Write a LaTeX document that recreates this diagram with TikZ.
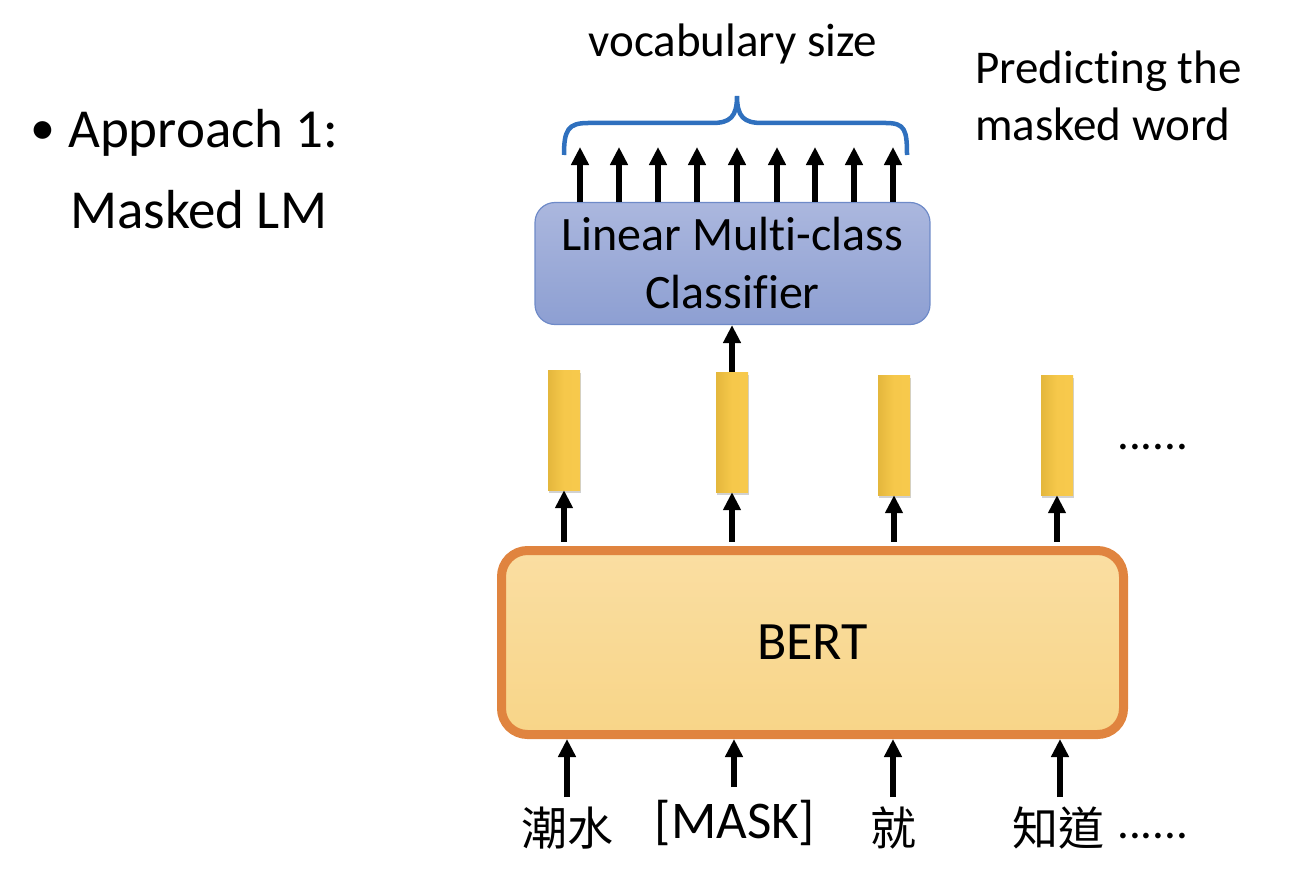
\documentclass[tikz,border=0pt]{standalone}
\usepackage{fontspec}
\setmainfont{Carlito}[Ligatures=NoCommon]
\newfontfamily\cjk{Noto Sans CJK TC}
\usetikzlibrary{arrows.meta,shadows}
\definecolor{bracecol}{RGB}{47,112,190}
\definecolor{bertborder}{RGB}{224,132,63}
\definecolor{berttop}{RGB}{250,222,162}
\definecolor{bertbot}{RGB}{248,213,136}
\definecolor{clstop}{RGB}{171,183,222}
\definecolor{clsbot}{RGB}{141,159,210}
\definecolor{clsborder}{RGB}{110,138,200}
\definecolor{vecleft}{RGB}{228,183,60}
\definecolor{vecright}{RGB}{247,201,76}
\tikzset{
  arr/.style={line width=5.5pt,-{Triangle[width=17pt,length=18pt]}},
  vecbar/.style={draw=none,minimum width=32pt,minimum height=120pt,inner sep=0pt,
    left color=vecleft,right color=vecright,middle color=vecright!95!vecleft,
    drop shadow={shadow xshift=1pt,shadow yshift=-2.5pt,fill=black!40,opacity=0.45}},
  txt/.style={inner sep=0pt,font=\fontsize{47}{57}\selectfont},
  bigtxt/.style={inner sep=0pt,font=\fontsize{55}{66}\selectfont},
  tok/.style={inner sep=0pt,font=\fontsize{53}{64}\selectfont},
}
\begin{document}
\begin{tikzpicture}[x=1pt,y=-1pt]
\useasboundingbox (0,0) rectangle (1290,888);

% left title
\node[inner sep=0pt,font=\fontsize{50}{60}\selectfont,anchor=base west] (bul) at (30,145) {•};
\node[bigtxt,anchor=base west] (ap1) at (68,148) {Approach 1:};
\node[bigtxt,anchor=base west] (ap2) at (70,228) {Masked LM};

% right top text
\node[txt,anchor=base west] (pr1) at (975,84) {Predicting the};
\node[txt,anchor=base west] (pr2) at (975,141) {masked word};
\node[txt,anchor=base] (voc) at (733,57) {vocabulary size};

% BERT box
\node[draw=bertborder,line width=9pt,rounded corners=26pt,
      top color=berttop,bottom color=bertbot,
      minimum width=622pt,minimum height=184pt,inner sep=0pt,
      font=\fontsize{54}{64}\selectfont] (bert) at (812.5,642.5) {BERT};

% classifier box
\node[draw=clsborder,line width=1.2pt,rounded corners=20pt,
      top color=clstop,bottom color=clsbot,
      minimum width=395pt,minimum height=122pt,inner sep=0pt,align=center,
      font=\fontsize{48}{59}\selectfont] (cls) at (732.5,263.5) {Linear Multi-class\\[-1pt]Classifier};

% output vectors
\node[vecbar] (v1) at (564,430) {};
\node[vecbar] (v2) at (732,432) {};
\node[vecbar] (v3) at (894,435) {};
\node[vecbar] (v4) at (1057,435) {};
\node[txt,anchor=base west] (dots1) at (1117,449) {......};

% arrows BERT -> vectors
\foreach \v in {v1,v2,v3,v4}{
  \draw[arr] (\v |- bert.north) ++(0,-4.5) -- (\v.south);
}
% arrow v2 -> classifier
\draw[arr] (v2.north) -- (v2 |- cls.south);

% input tokens
\node[tok,anchor=base] (t1) at (567,845) {\cjk\fontsize{46}{56}\selectfont 潮水};
\node[tok,anchor=base] (t2) at (735,838) {[MASK]};
\node[tok,anchor=base] (t3) at (893,845) {\cjk\fontsize{46}{56}\selectfont 就};
\node[tok,anchor=base] (t4) at (1058,845) {\cjk\fontsize{46}{56}\selectfont 知道};
\node[txt,anchor=base west] (dots2) at (1117,838) {......};

\coordinate (i1) at (567,797);
\coordinate (i2) at (734,787);
\coordinate (i3) at (893,797);
\coordinate (i4) at (1060,797);
\draw[arr] (i1) -- (i1 |- bert.south);
\draw[arr] (i2) -- (i2 |- bert.south);
\draw[arr] (i3) -- (i3 |- bert.south);
\draw[arr] (i4) -- (i4 |- bert.south);

% classifier outputs
\foreach \x [count=\i] in {580,619,658,697,737,777,815,854,893}{
  \coordinate (o\i) at (\x,147);
  \draw[arr] (o\i |- cls.north) -- (o\i);
}

% brace
\draw[bracecol,line width=4.5pt,line cap=butt]
  (564,155) .. controls (564,130) and (568,123) .. (588,123) -- (712,123)
  .. controls (730,123) and (737,117) .. (737,96)
  .. controls (737,117) and (744,123) .. (762,123) -- (886,123)
  .. controls (905,123) and (907,130) .. (907,155);
\end{tikzpicture}
\end{document}
